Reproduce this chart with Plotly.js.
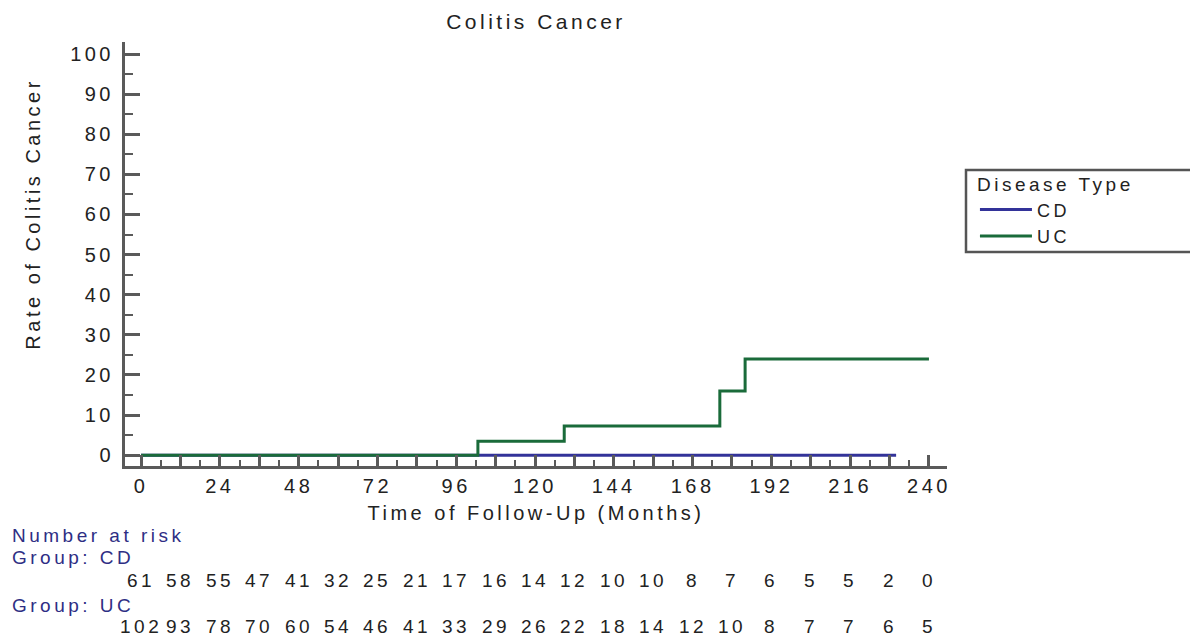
<!DOCTYPE html>
<html>
<head>
<meta charset="utf-8">
<script src="https://cdn.plot.ly/plotly-3.0.1.min.js"></script>
<style>
  html, body { margin: 0; padding: 0; background: #fff; }
  #chart { width: 1190px; height: 639px; }
  svg text { letter-spacing: 3.5px; }
</style>
</head>
<body>
<div id="chart"></div>
<script>
// ---- data ----
const cdTime = [0, 230];
const cdRate = [0, 0];
const ucTime = [0, 102.6, 128.9, 176.3, 184, 240];
const ucRate = [0, 3.5, 7.3, 16.0, 24.0, 24.0];

const riskTimes = [0, 12, 24, 36, 48, 60, 72, 84, 96, 108, 120, 132, 144, 156, 168, 180, 192, 204, 216, 228, 240];
const riskCD = [61, 58, 55, 47, 41, 32, 25, 21, 17, 16, 14, 12, 10, 10, 8, 7, 6, 5, 5, 2, 0];
const riskUC = [102, 93, 78, 70, 60, 54, 46, 41, 33, 29, 26, 22, 18, 14, 12, 10, 8, 7, 7, 6, 5];

const xTickVals = [0, 12, 24, 36, 48, 60, 72, 84, 96, 108, 120, 132, 144, 156, 168, 180, 192, 204, 216, 228, 240];
const xTickText = ['0', '', '24', '', '48', '', '72', '', '96', '', '120', '', '144', '', '168', '', '192', '', '216', '', '240'];

const FONT = 'Liberation Sans, Arial, sans-serif';
const AXIS = '#5a5a5a';
const TXT = '#222222';
const NAVY = '#2e2e84';

const traces = [
  { x: cdTime, y: cdRate, name: 'CD', mode: 'lines', line: { shape: 'hv', color: '#333399', width: 3 } },
  { x: ucTime, y: ucRate, name: 'UC', mode: 'lines', line: { shape: 'hv', color: '#1a6b3a', width: 3 } }
];

const annotations = [];
const rowY = { label: -0.163, cdHead: -0.215, cdNums: -0.271, ucHead: -0.328, ucNums: -0.378 };
annotations.push({ xref: 'paper', yref: 'paper', x: -0.14, y: rowY.label, xanchor: 'left', yanchor: 'middle', showarrow: false, text: 'Number at risk', font: { family: FONT, size: 19, color: NAVY } });
annotations.push({ xref: 'paper', yref: 'paper', x: -0.14, y: rowY.cdHead, xanchor: 'left', yanchor: 'middle', showarrow: false, text: 'Group: CD', font: { family: FONT, size: 19, color: NAVY } });
annotations.push({ xref: 'paper', yref: 'paper', x: -0.14, y: rowY.ucHead, xanchor: 'left', yanchor: 'middle', showarrow: false, text: 'Group: UC', font: { family: FONT, size: 19, color: NAVY } });
riskTimes.forEach((t, i) => {
  annotations.push({ xref: 'x', yref: 'paper', x: t, y: rowY.cdNums, xanchor: 'center', yanchor: 'middle', showarrow: false, text: String(riskCD[i]), font: { family: FONT, size: 19, color: TXT } });
  annotations.push({ xref: 'x', yref: 'paper', x: t, y: rowY.ucNums, xanchor: 'center', yanchor: 'middle', showarrow: false, borderpad: 0, text: String(riskUC[i]), font: { family: FONT, size: 19, color: TXT } });
});
annotations.push({ xref: 'paper', yref: 'paper', x: -0.112, y: 0.595, xanchor: 'center', yanchor: 'middle', textangle: -90, showarrow: false, text: 'Rate of Colitis Cancer', font: { family: FONT, size: 20, color: TXT } });

const layout = {
  width: 1190, height: 639,
  margin: { l: 125, r: 243, t: 42, b: 173 },
  paper_bgcolor: '#ffffff', plot_bgcolor: '#ffffff',
  font: { family: FONT, size: 20, color: TXT },
  title: { text: 'Colitis Cancer', x: 0.5, xref: 'paper', y: 1 - 22 / 639, yref: 'container', yanchor: 'middle', font: { family: FONT, size: 21, color: TXT } },
  xaxis: {
    range: [-4.9, 245.5], showgrid: false, zeroline: false,
    showline: true, linecolor: AXIS, linewidth: 3,
    tickmode: 'array', tickvals: xTickVals, ticktext: xTickText,
    ticks: 'inside', ticklen: 11, tickwidth: 3, tickcolor: AXIS,
    minor: { tickmode: 'linear', tick0: 0, dtick: 6, ticks: 'inside', ticklen: 6, tickwidth: 2, tickcolor: AXIS },
    tickfont: { family: FONT, size: 20, color: TXT },
    title: { text: 'Time of Follow-Up (Months)', standoff: 10, font: { family: FONT, size: 20, color: TXT } }
  },
  yaxis: {
    range: [-2.7, 103], showgrid: false, zeroline: false,
    showline: true, linecolor: AXIS, linewidth: 3,
    tickmode: 'linear', tick0: 0, dtick: 10,
    ticks: 'inside', ticklen: 15, tickwidth: 3, tickcolor: AXIS,
    minor: { tickmode: 'linear', tick0: 0, dtick: 5, ticks: 'inside', ticklen: 8, tickwidth: 2, tickcolor: AXIS },
    ticklabelstandoff: 4,
    tickfont: { family: FONT, size: 20, color: TXT }
  },
  showlegend: true,
  legend: {
    x: 1.034, y: 0.706, xanchor: 'left', yanchor: 'top',
    borderwidth: 0, bgcolor: 'rgba(0,0,0,0)',
    font: { family: FONT, size: 18, color: TXT },
    title: { text: 'Disease Type', font: { family: FONT, size: 19, color: TXT } },
    itemwidth: 52, tracegroupgap: 0
  },
  shapes: [
    { type: 'rect', xref: 'paper', yref: 'paper', x0: (966 - 125) / 822, x1: 1.31, y0: 0.505, y1: 0.698, line: { color: '#555555', width: 2.5 }, fillcolor: 'rgba(0,0,0,0)' }
  ],
  annotations: annotations
};

Plotly.newPlot('chart', traces, layout, { displayModeBar: false, staticPlot: true });
</script>
</body>
</html>
